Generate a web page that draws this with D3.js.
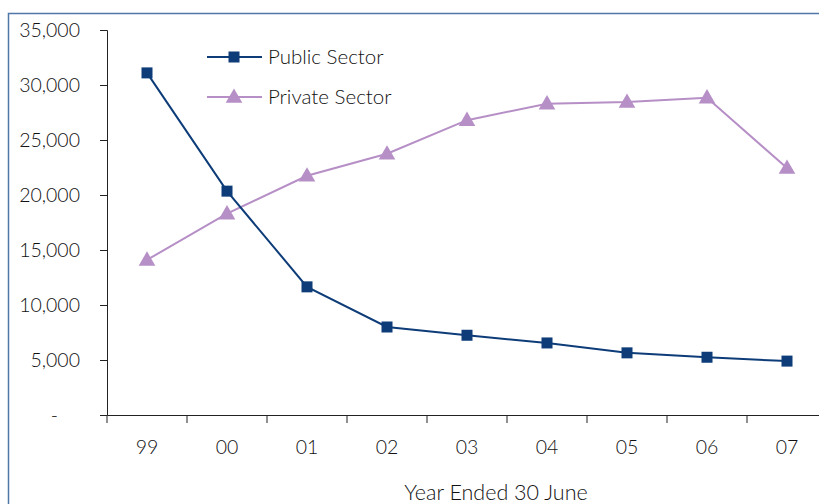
<!DOCTYPE html>
<html>
<head>
<meta charset="utf-8">
<script src="https://cdn.jsdelivr.net/npm/d3@7"></script>
<style>
  body { margin: 0; background: #fff; }
  text { font-family: Lato, "Open Sans", sans-serif; font-weight: 300; fill: #111; }
</style>
</head>
<body>
<div class="chart"></div>
<script>
var years = ['99', '00', '01', '02', '03', '04', '05', '06', '07'];
var publicSector = [31100, 20350, 11650, 8000, 7250, 6550, 5650, 5250, 4900];
var privateSector = [14100, 18300, 21750, 23750, 26800, 28300, 28450, 28850, 22450];
var yTicks = [0, 5000, 10000, 15000, 20000, 25000, 30000, 35000];

function init() {
  var width = 819,
      height = 504,
      left = 107,
      top = 30,
      bottom = 415,
      step = 80;

  var svg = d3.select('.chart')
    .append('svg')
      .attr('width', width)
      .attr('height', height);

  // outer frame
  svg.append('rect')
      .attr('x', 8.5)
      .attr('y', 13.5)
      .attr('width', 840)
      .attr('height', 520)
      .attr('fill', 'none')
      .attr('stroke', '#4f77a8')
      .attr('stroke-width', 1.5);

  var x = d3.scaleBand().domain(years).range([left, left + step * years.length]);
  var y = d3.scaleLinear().domain([0, 35000]).range([bottom, top]);

  var yAxis = svg.append('g')
      .attr('transform', 'translate(' + left + ',0)')
      .call(d3.axisLeft(y).tickValues(yTicks).tickSize(7).tickPadding(20)
        .tickFormat(function(d) { return d === 0 ? '-' : d3.format(',')(d); }));

  // accounting-style dash sits left of the digits column
  yAxis.selectAll('.tick text')
      .filter(function(d) { return d === 0; })
      .attr('dx', -22);

  var xAxis = svg.append('g')
      .attr('transform', 'translate(0,' + bottom + ')')
      .call(d3.axisBottom(x).tickSize(0).tickPadding(25));

  // tick marks between categories
  xAxis.selectAll('line.sep')
    .data(d3.range(years.length))
    .enter().append('line')
      .attr('class', 'sep')
      .attr('x1', function(i) { return left + i * step; })
      .attr('x2', function(i) { return left + i * step; })
      .attr('y1', 0)
      .attr('y2', 8)
      .attr('stroke', '#222');

  [yAxis, xAxis].forEach(function(a) {
    a.select('.domain').attr('stroke', '#222');
    a.selectAll('.tick line').attr('stroke', '#222');
    a.selectAll('text')
        .style('font-family', 'Lato, sans-serif')
        .style('font-weight', 300)
        .style('font-size', '19.5px')
        .attr('fill', '#111');
  });

  svg.append('text')
      .attr('x', 496)
      .attr('y', 500)
      .attr('text-anchor', 'middle')
      .style('font-size', '21.5px')
      .text('Year Ended 30 June');

  var cx = function(d, i) { return x(years[i]) + x.bandwidth() / 2; };
  var line = d3.line().x(cx).y(function(d) { return y(d); });

  var pubColor = '#0d3c78',
      privColor = '#b68fc6';

  svg.append('path')
      .datum(privateSector)
      .attr('d', line)
      .attr('fill', 'none')
      .attr('stroke', privColor)
      .attr('stroke-width', 2);

  svg.append('path')
      .datum(publicSector)
      .attr('d', line)
      .attr('fill', 'none')
      .attr('stroke', pubColor)
      .attr('stroke-width', 2);

  var tri = d3.symbol().type(d3.symbolTriangle).size(120);

  svg.selectAll('path.priv')
    .data(privateSector)
    .enter().append('path')
      .attr('class', 'priv')
      .attr('d', tri)
      .attr('transform', function(d, i) { return 'translate(' + cx(d, i) + ',' + (y(d) + 1) + ')'; })
      .attr('fill', privColor);

  svg.selectAll('rect.pub')
    .data(publicSector)
    .enter().append('rect')
      .attr('class', 'pub')
      .attr('x', function(d, i) { return cx(d, i) - 5.5; })
      .attr('y', function(d) { return y(d) - 5.5; })
      .attr('width', 11)
      .attr('height', 11)
      .attr('fill', pubColor);

  // legend
  var legend = [
    { name: 'Public Sector', color: pubColor, shape: 'square', y: 57 },
    { name: 'Private Sector', color: privColor, shape: 'triangle', y: 97 }
  ];

  var lg = svg.selectAll('g.legend')
    .data(legend)
    .enter().append('g')
      .attr('class', 'legend')
      .attr('transform', function(d) { return 'translate(207,' + d.y + ')'; });

  lg.append('line')
      .attr('x1', 0)
      .attr('x2', 55)
      .attr('stroke', function(d) { return d.color; })
      .attr('stroke-width', 2);

  lg.each(function(d) {
    var g = d3.select(this);
    if (d.shape === 'square') {
      g.append('rect')
          .attr('x', 21.5).attr('y', -5.5)
          .attr('width', 11).attr('height', 11)
          .attr('fill', d.color);
    } else {
      g.append('path')
          .attr('d', tri)
          .attr('transform', 'translate(27,1)')
          .attr('fill', d.color);
    }
  });

  lg.append('text')
      .attr('x', 61)
      .attr('dy', '0.35em')
      .style('font-size', '20.5px')
      .text(function(d) { return d.name; });
}

d3.select(window).on('load', init);
</script>
</body>
</html>
